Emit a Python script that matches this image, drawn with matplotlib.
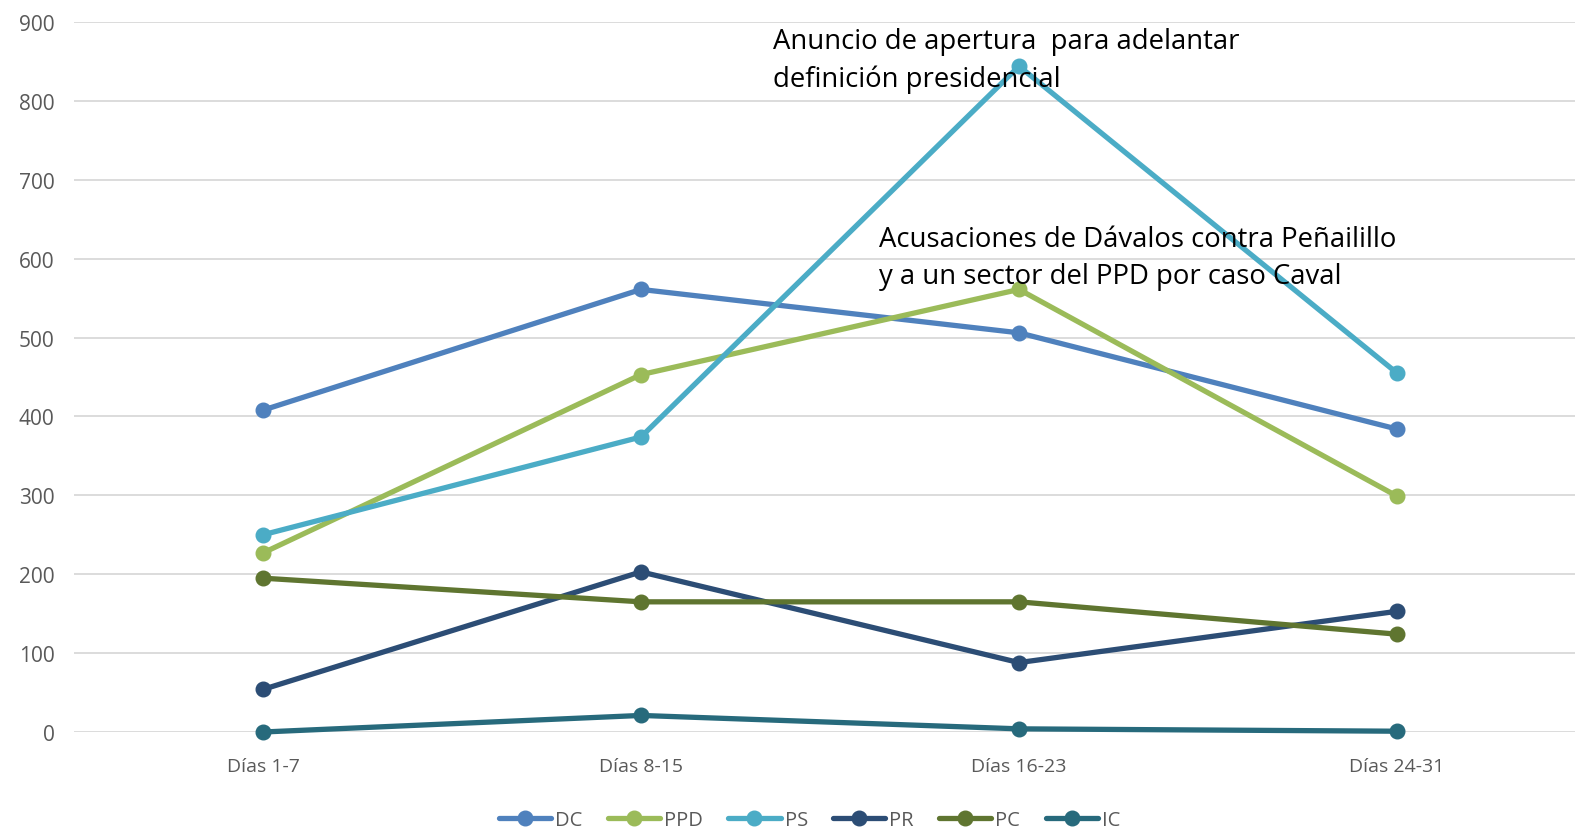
import matplotlib
matplotlib.use("Agg")
import matplotlib.pyplot as plt

categories = ["Días 1-7", "Días 8-15", "Días 16-23", "Días 24-31"]
DC = [408, 561, 506, 384]
PPD = [227, 453, 561, 299]
PS = [250, 374, 844, 455]
PR = [54, 203, 88, 153]
PC = [195, 165, 165, 124]
IC = [0, 21, 4, 1]

series = [("DC", DC, "#4F81BD"), ("PPD", PPD, "#9BBB59"), ("PS", PS, "#4BACC6"),
          ("PR", PR, "#2C4D75"), ("PC", PC, "#5F7530"), ("IC", IC, "#276A7C")]

note1 = "Anuncio de apertura  para adelantar\ndefinición presidencial"
note2 = "Acusaciones de Dávalos contra Peñailillo\ny a un sector del PPD por caso Caval"

plt.rcParams['font.family'] = ['Open Sans', 'DejaVu Sans']

fig = plt.figure(figsize=(15.75, 8.28), dpi=100)
W, H = 1575, 828
left, right = 74, 1586
bottom, top = 733, 23
ax = fig.add_axes([left / W, (H - bottom) / H, (right - left) / W, (bottom - top) / H])

x = list(range(len(categories)))
for name, vals, col in series:
    ax.plot(x, vals, color=col, lw=3.8, marker='o', ms=10.5, label=name,
            solid_capstyle='round', zorder=3, clip_on=False)

ax.set_xlim(-0.5, 3.5)
ax.set_ylim(0, 900)
ax.set_yticks(range(0, 901, 100))
ax.set_xticks(x)
ax.set_xticklabels(categories)
ax.grid(axis='y', color='#D9D9D9', lw=1.3, zorder=0)
ax.set_axisbelow(True)
for s in ax.spines.values():
    s.set_visible(False)
ax.tick_params(length=0, colors='#595959')
ax.tick_params(axis='x', labelsize=14, pad=18)
ax.tick_params(axis='y', labelsize=15, pad=14)

ax.text(1.35, 894, note1, fontsize=19.8, va='top', ha='left',
        color='black', linespacing=1.45, zorder=5)
ax.text(1.63, 643, note2, fontsize=19.8, va='top', ha='left',
        color='black', linespacing=1.45, zorder=5)

fig.legend(loc='lower center', bbox_to_anchor=(0.514, -0.025), ncol=6, frameon=False,
           fontsize=14.5, handlelength=2.6, columnspacing=1.25, handletextpad=0.2,
           labelcolor='#595959')

fig.savefig("out.png", dpi=100)
